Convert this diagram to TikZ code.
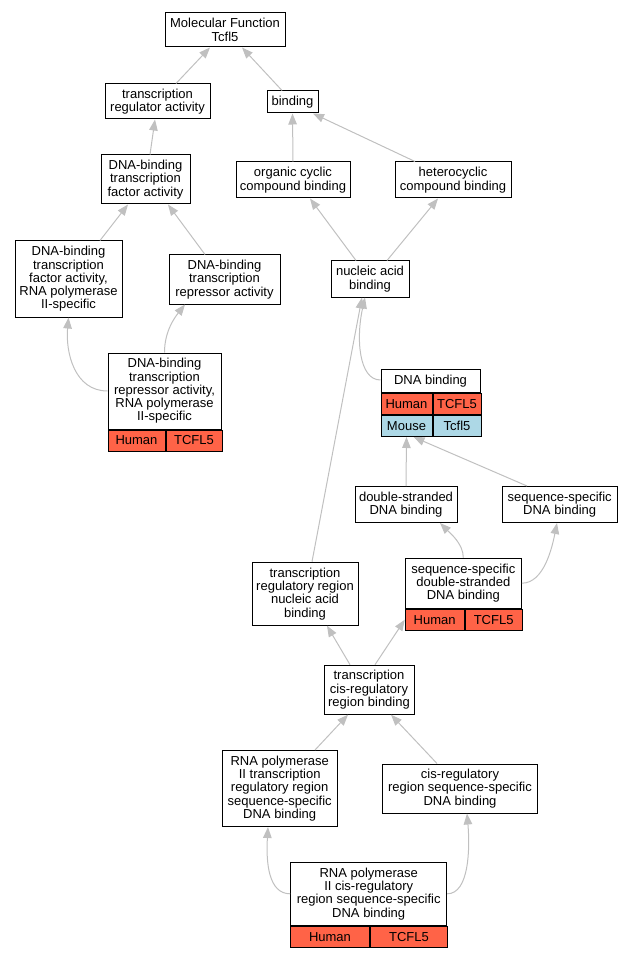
\documentclass[tikz,border=0pt]{standalone}
\usepackage{fontspec}
\setmainfont{Liberation Sans}
\usetikzlibrary{arrows.meta,calc}
\definecolor{edgegrey}{HTML}{C0C0C0}
\definecolor{human}{HTML}{FF6347}
\definecolor{mouse}{HTML}{ADD8E6}
\begin{document}
\begin{tikzpicture}[x=1pt,y=-1pt,
  box/.style={draw=black, line width=1pt, fill=white, inner sep=0pt, align=center,
    font=\fontsize{13}{13.3}\selectfont},
  cell/.style={box, anchor=north west, minimum height=21pt},
  edge/.style={draw=edgegrey, line width=1pt, -{Triangle[length=11pt,width=8.5pt]}}]
\useasboundingbox (0,0) rectangle (633,957);

% nodes
\node[box, minimum width=120pt, minimum height=34pt] (n1) at (225,30) {Molecular Function\\Tcfl5};
\node[box, minimum width=105pt, minimum height=35pt] (n2) at (157.5,101.5) {transcription\\regulator activity};
\node[box, minimum width=51pt, minimum height=22pt] (n3) at (292.5,102) {binding};
\node[box, minimum width=89pt, minimum height=49pt] (n4) at (145.5,179.5) {DNA-binding\\transcription\\factor activity};
\node[box, minimum width=114pt, minimum height=36pt] (n5) at (293,180) {organic cyclic\\compound binding};
\node[box, minimum width=116pt, minimum height=36pt] (n6) at (453,180) {heterocyclic\\compound binding};
\node[box, minimum width=107pt, minimum height=76pt] (n7) at (68.5,279) {DNA-binding\\transcription\\factor activity,\\RNA polymerase\\II-specific};
\node[box, minimum width=111pt, minimum height=49pt] (n8) at (224.5,279.5) {DNA-binding\\transcription\\repressor activity};
\node[box, minimum width=78pt, minimum height=36pt] (n9) at (370,279) {nucleic acid\\binding};

\node[box, minimum width=113pt, minimum height=76pt] (n10) at (164.5,391) {DNA-binding\\transcription\\repressor activity,\\RNA polymerase\\II-specific};
\node[cell, fill=human, minimum width=57pt] (n10h) at (n10.south west) {Human};
\node[cell, fill=human, minimum width=56pt] (n10g) at (n10h.north east) {TCFL5};

\node[box, minimum width=99pt, minimum height=23pt] (n11) at (430.5,381) {DNA binding};
\node[cell, fill=human, minimum width=51pt] (n11h) at (n11.south west) {Human};
\node[cell, fill=human, minimum width=48pt] (n11g) at (n11h.north east) {TCFL5};
\node[cell, fill=mouse, minimum width=51pt] (n11m) at (n11h.south west) {Mouse};
\node[cell, fill=mouse, minimum width=48pt] (n11t) at (n11m.north east) {Tcfl5};

\node[box, minimum width=102pt, minimum height=36pt] (n12) at (406,504.5) {double-stranded\\DNA binding};
\node[box, minimum width=115pt, minimum height=36pt] (n13) at (559.7,504.5) {sequence-specific\\DNA binding};
\node[box, minimum width=106pt, minimum height=63pt] (n14) at (305,593.7) {transcription\\regulatory region\\nucleic acid\\binding};

\node[box, minimum width=116pt, minimum height=50pt] (n15) at (463.3,583.2) {sequence-specific\\double-stranded\\DNA binding};
\node[cell, fill=human, minimum width=58.7pt] (n15h) at (n15.south west) {Human};
\node[cell, fill=human, minimum width=57.3pt] (n15g) at (n15h.north east) {TCFL5};

\node[box, minimum width=90pt, minimum height=49pt] (n16) at (369,689.7) {transcription\\cis-regulatory\\region binding};
\node[box, minimum width=115pt, minimum height=76pt] (n17) at (279.7,788.5) {RNA polymerase\\II transcription\\regulatory region\\sequence-specific\\DNA binding};
\node[box, minimum width=154.5pt, minimum height=49pt] (n18) at (460,788.5) {cis-regulatory\\region sequence-specific\\DNA binding};

\node[box, minimum width=156pt, minimum height=63pt] (n19) at (368.7,893.8) {RNA polymerase\\II cis-regulatory\\region sequence-specific\\DNA binding};
\node[cell, fill=human, minimum width=78.6pt] (n19h) at (n19.south west) {Human};
\node[cell, fill=human, minimum width=77.4pt] (n19g) at (n19h.north east) {TCFL5};

% edges
\draw[edge] ($(n2.north)+(18.5,0)$) -- ($(n1.south)+(-15,0)$);
\draw[edge] ($(n3.north)+(-10.5,0)$) -- ($(n1.south)+(17,0)$);
\draw[edge] ($(n4.north)+(4.5,0)$) -- ($(n2.south)+(-2.5,0)$);
\draw[edge] (n5.north) -- (n3.south);
\draw[edge] ($(n6.north)+(-38,0)$) -- ($(n3.south)+(20.5,0)$);
\draw[edge] ($(n7.north)+(31.5,0)$) -- ($(n4.south)+(-17.5,0)$);
\draw[edge] ($(n8.north)+(-19.5,0)$) -- ($(n4.south)+(22.5,0)$);
\draw[edge] ($(n9.north)+(-14,0)$) -- ($(n5.south)+(17,0)$);
\draw[edge] ($(n9.north)+(17,0)$) -- ($(n6.south)+(-15,0)$);
\draw[edge] (n10.west) .. controls ($(n10.west)+(-33,0)$) and ($(n7.south)+(-3,35)$) .. (n7.south);
\draw[edge] (n10.north) .. controls ($(n10.north)+(0,-22)$) and ($(n8.south)+(-49,12)$) .. ($(n8.south)+(-39.5,0)$);
\draw[edge] ($(n11.west)+(0,-1)$) .. controls ($(n11.west)+(-22,-1)$) and ($(n9.south)+(-14,40)$) .. ($(n9.south)+(-5,0)$);
\draw[edge] ($(n14.north)+(7,0)$) -- ($(n9.south)+(-8,0)$);
\draw[edge] (n12.north) -- (n11m.south);
\draw[edge] ($(n13.north)+(-32.7,0)$) -- ($(n11m.south)+(7,0)$);
\draw[edge] (n15.north) .. controls ($(n15.north)+(0,-14)$) and ($(n12.south)+(44,10)$) .. ($(n12.south)+(34,0)$);
\draw[edge] (n15.east) .. controls ($(n15.east)+(22,0)$) and ($(n13.south)+(-7.7,25)$) .. ($(n13.south)+(-2.7,0)$);
\draw[edge] ($(n16.north)+(-19,0)$) -- ($(n14.south)+(22,0)$);
\draw[edge] ($(n16.north)+(6,0)$) -- (n15h.west);
\draw[edge] ($(n17.north)+(35.3,0)$) -- ($(n16.south)+(-21,0)$);
\draw[edge] ($(n18.north)+(-23,0)$) -- ($(n16.south)+(22,0)$);
\draw[edge] (n19.west) .. controls ($(n19.west)+(-22,0)$) and ($(n17.south)+(-13.7,35)$) .. ($(n17.south)+(-11.7,0)$);
\draw[edge] (n19.east) .. controls ($(n19.east)+(22,0)$) and ($(n18.south)+(10,35)$) .. ($(n18.south)+(7,0)$);
\end{tikzpicture}
\end{document}
